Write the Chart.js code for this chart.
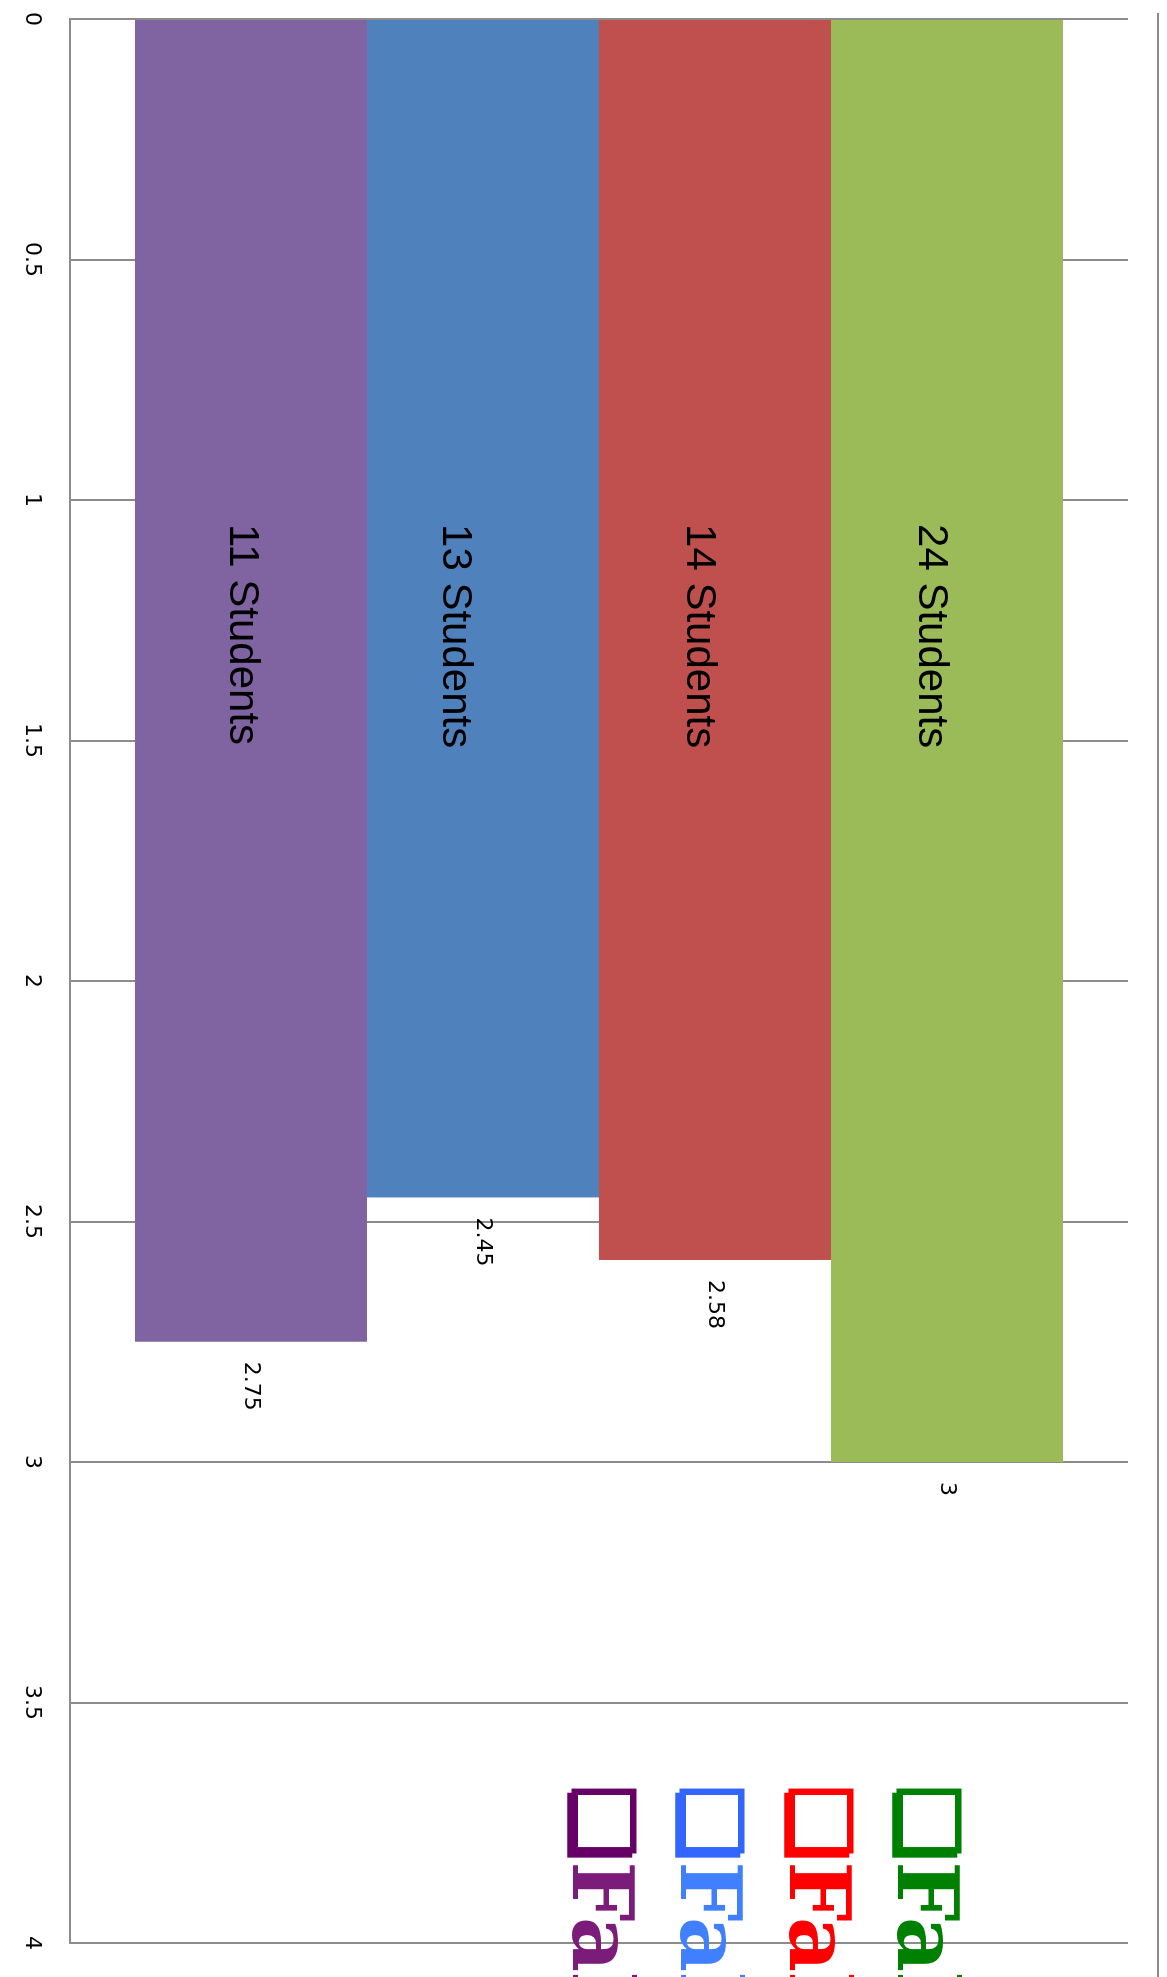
<!DOCTYPE html>
<html>
<head>
<meta charset="utf-8">
<title>GPA by group</title>
<script src="https://cdn.jsdelivr.net/npm/chart.js@4.4.1/dist/chart.umd.min.js"></script>
<style>
  html, body { margin: 0; padding: 0; overflow: hidden; background: #ffffff; }
  body { width: 1167px; height: 1977px; position: relative; }
  /* The chart is laid out landscape and turned a quarter turn clockwise */
  #wrap {
    position: absolute; left: 0; top: 0;
    width: 1977px; height: 1167px;
    transform-origin: 0 0;
    transform: translate(1167px, 0) rotate(90deg);
  }
</style>
</head>
<body>
<div id="wrap"><canvas id="chart"></canvas></div>
<script>
// ---- data ----
const categories = [''];
const seriesLabels = ['Fall', 'Fall', 'Fall', 'Fall'];
const gpaValues = [3, 2.58, 2.45, 2.75];
const studentCounts = [24, 14, 13, 11];
const barColors = ['#9BBB59', '#C0504D', '#4F81BD', '#8064A2'];
const legendBoxColors = ['#008000', '#FF0000', '#3366FF', '#660066'];
const legendTextColors = ['#008000', '#FF0000', '#4080FF', '#7B1C7B'];
const axisMin = 0;
const axisMax = 4;
const axisStep = 0.5;

const datasets = seriesLabels.map((label, i) => ({
  label: label,
  data: [gpaValues[i]],
  backgroundColor: barColors[i],
  borderWidth: 0,
  categoryPercentage: 0.877,
  barPercentage: 1
}));

// "NN Students" inside each bar and the value just past its end
const countLabelDrop = [16, 16, 28, 9];
const barLabels = {
  id: 'barLabels',
  afterDatasetsDraw(chart) {
    const ctx = chart.ctx;
    const xs = chart.scales.x;
    ctx.save();
    ctx.fillStyle = '#000000';
    ctx.textBaseline = 'middle';
    ctx.textAlign = 'left';
    chart.data.datasets.forEach((ds, i) => {
      const bar = chart.getDatasetMeta(i).data[0];
      ctx.font = '42px "Liberation Sans"';
      ctx.fillText(studentCounts[i] + ' Students', xs.getPixelForValue(1.05), bar.y + countLabelDrop[i]);
      ctx.font = '22px "DejaVu Sans"';
      ctx.fillText(String(ds.data[0]), bar.x + 20, bar.y);
    });
    ctx.restore();
  }
};

// legend entries drawn over the right part of the plot, plus the top frame line
const sideLegend = {
  id: 'sideLegend',
  afterDraw(chart) {
    const ctx = chart.ctx;
    const area = chart.chartArea;
    ctx.save();
    ctx.font = 'bold 85px "DejaVu Serif", "DejaVu Sans"';
    ctx.textAlign = 'left';
    ctx.textBaseline = 'alphabetic';
    ctx.lineJoin = 'miter';
    const x0 = area.right - 158;
    chart.data.datasets.forEach((ds, i) => {
      const y = area.top + 230 + i * 108.3;
      ctx.fillStyle = legendBoxColors[i];
      ctx.strokeStyle = legendBoxColors[i];
      ctx.lineWidth = 3;
      ctx.fillText('\u274F', x0, y);
      ctx.strokeText('\u274F', x0, y);
      const w = ctx.measureText('\u274F').width;
      ctx.fillStyle = legendTextColors[i];
      ctx.fillText(ds.label, x0 + w, y);
    });
    ctx.strokeStyle = '#8a8a8a';
    ctx.lineWidth = 2;
    ctx.beginPath();
    ctx.moveTo(13, 9);
    ctx.lineTo(chart.width, 9);
    ctx.stroke();
    ctx.restore();
  }
};

new Chart(document.getElementById('chart'), {
  type: 'bar',
  data: { labels: categories, datasets: datasets },
  options: {
    indexAxis: 'y',
    responsive: true,
    maintainAspectRatio: false,
    animation: false,
    layout: { padding: { left: 19, right: 34, top: 39, bottom: 0 } },
    plugins: {
      legend: { display: false },
      tooltip: { enabled: false }
    },
    scales: {
      x: {
        min: axisMin,
        max: axisMax,
        ticks: {
          stepSize: axisStep,
          color: '#000000',
          font: { family: 'DejaVu Sans', size: 22 },
          padding: 25,
          maxRotation: 0,
          callback: (v) => String(v)
        },
        grid: { color: '#8c8c8c', lineWidth: 2, drawTicks: false },
        border: { color: '#8c8c8c', width: 2 },
        afterFit: (s) => { s.height = 70; s.paddingLeft = 0; s.paddingRight = 0; }
      },
      y: { display: false }
    }
  },
  plugins: [barLabels, sideLegend]
});
</script>
</body>
</html>
